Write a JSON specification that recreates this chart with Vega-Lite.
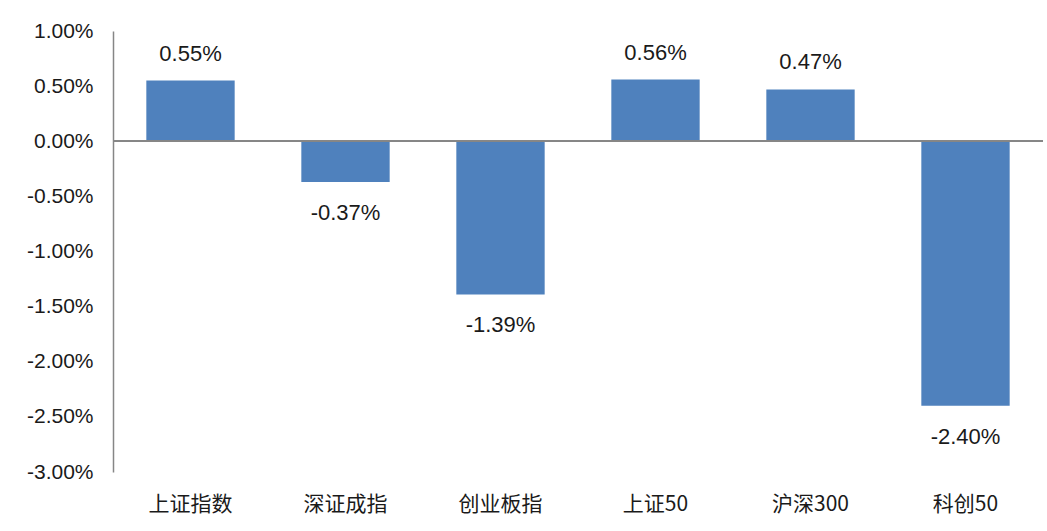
{
  "$schema": "https://vega.github.io/schema/vega-lite/v6.json",
  "autosize": {"type": "none"},
  "width": 930,
  "height": 441,
  "padding": {"left": 113, "top": 31, "right": 4, "bottom": 59},
  "background": "white",
  "config": {
    "view": {"stroke": null},
    "locale": {"number": {"decimal": ".", "thousands": ",", "grouping": [3], "currency": ["", ""], "minus": "-"}}
  },
  "data": {"values": [
    {"name": "上证指数", "value": 0.0055},
    {"name": "深证成指", "value": -0.0037},
    {"name": "创业板指", "value": -0.0139},
    {"name": "上证50", "value": 0.0056},
    {"name": "沪深300", "value": 0.0047},
    {"name": "科创50", "value": -0.0240}
  ]},
  "encoding": {
    "x": {"field": "name", "type": "nominal", "sort": null,
      "scale": {"paddingInner": 0.43, "paddingOuter": 0.215},
      "axis": {"title": null, "domain": false, "ticks": false, "labelAngle": 0,
        "labelFont": "Noto Sans CJK SC", "labelFontSize": 21, "labelColor": "#1a1a1a",
        "labelPadding": 21}},
    "y": {"field": "value", "type": "quantitative",
      "scale": {"domain": [-0.03, 0.01], "nice": false, "zero": false},
      "axis": {"title": null, "format": ".2%", "values": [-0.03, -0.025, -0.02, -0.015, -0.01, -0.005, 0, 0.005, 0.01],
        "grid": false, "ticks": false, "domain": true, "domainColor": "#868686", "domainWidth": 1.5,
        "labelFont": "Liberation Sans", "labelFontSize": 21, "labelColor": "#1a1a1a", "labelPadding": 20}}
  },
  "layer": [
    {"mark": {"type": "bar", "color": "#4F81BD"}},
    {"mark": {"type": "rule", "color": "#868686", "strokeWidth": 1.5},
     "encoding": {"x": null, "y": {"datum": 0, "type": "quantitative"}}},
    {"transform": [{"filter": "datum.value >= 0"}],
     "mark": {"type": "text", "font": "Liberation Sans", "fontSize": 22, "color": "#1a1a1a", "baseline": "middle", "dy": -27},
     "encoding": {"text": {"field": "value", "type": "quantitative", "format": ".2%"}}},
    {"transform": [{"filter": "datum.value < 0"}],
     "mark": {"type": "text", "font": "Liberation Sans", "fontSize": 22, "color": "#1a1a1a", "baseline": "middle", "dy": 31},
     "encoding": {"text": {"field": "value", "type": "quantitative", "format": ".2%"}}}
  ]
}
